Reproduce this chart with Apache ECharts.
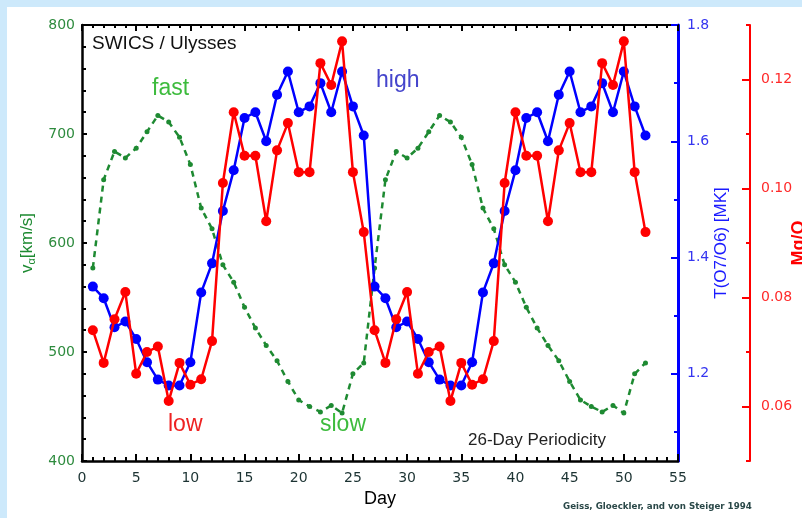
<!DOCTYPE html>
<html>
<head>
<meta charset="utf-8">
<script src="https://cdn.jsdelivr.net/npm/echarts@6/dist/echarts.min.js"></script>
<style>
  html, body { margin: 0; padding: 0; background: #cde9fb; }
  #frame { position: absolute; left: 7px; top: 7px; width: 795px; height: 511px; background: #ffffff; }
  #chart { position: absolute; left: 0; top: 0; width: 802px; height: 518px; }
</style>
</head>
<body>
<div id="frame"></div>
<div id="chart"></div>
<script>
// day number, two 26-day rotations
const days = [
  1, 2, 3, 4, 5, 6, 7, 8, 9, 10, 11, 12, 13, 14, 15, 16, 17, 18, 19, 20, 21, 22, 23, 24, 25, 26,
  27, 28, 29, 30, 31, 32, 33, 34, 35, 36, 37, 38, 39, 40, 41, 42, 43, 44, 45, 46, 47, 48, 49, 50, 51, 52
];

// solar wind speed v_alpha [km/s]
const speed = [
  577, 658, 684, 678, 687, 702, 717, 711, 697, 672, 632, 613, 580, 564, 541, 522, 506, 492, 473, 456, 450, 445, 451, 444, 480, 490,
  577, 658, 684, 678, 687, 702, 717, 711, 697, 672, 632, 613, 580, 564, 541, 522, 506, 492, 473, 456, 450, 445, 451, 444, 480, 490
];

// freeze-in temperature T(O7/O6) [MK]
const tempO = [
  1.35, 1.33, 1.28, 1.29, 1.26, 1.22, 1.19, 1.18, 1.18, 1.22, 1.34, 1.39, 1.48, 1.55, 1.64, 1.65, 1.60, 1.68, 1.72, 1.65, 1.66, 1.70, 1.65, 1.72, 1.66, 1.61,
  1.35, 1.33, 1.28, 1.29, 1.26, 1.22, 1.19, 1.18, 1.18, 1.22, 1.34, 1.39, 1.48, 1.55, 1.64, 1.65, 1.60, 1.68, 1.72, 1.65, 1.66, 1.70, 1.65, 1.72, 1.66, 1.61
];

// abundance ratio Mg/O
const mgO = [
  0.074, 0.068, 0.076, 0.081, 0.066, 0.070, 0.071, 0.061, 0.068, 0.064, 0.065, 0.072, 0.101, 0.114, 0.106, 0.106, 0.094, 0.107, 0.112, 0.103, 0.103, 0.123, 0.119, 0.127, 0.103, 0.092,
  0.074, 0.068, 0.076, 0.081, 0.066, 0.070, 0.071, 0.061, 0.068, 0.064, 0.065, 0.072, 0.101, 0.114, 0.106, 0.106, 0.094, 0.107, 0.112, 0.103, 0.103, 0.123, 0.119, 0.127, 0.103, 0.092
];

// tick values on the two right-hand axes
const tempMajorTicks = [1.2, 1.4, 1.6, 1.8];
const tempMinorTicks = [1.1, 1.3, 1.5, 1.7];
const mgMajorTicks = [0.06, 0.08, 0.10, 0.12];
const mgMinorTicks = [0.05, 0.07, 0.09, 0.11, 0.13];

const GREEN = '#1e8a32';
const BLUE = '#0000ff';
const RED = '#ff0000';
const FONT = 'DejaVu Sans';
const SANS = 'Liberation Sans';

const chart = echarts.init(document.getElementById('chart'), null, { renderer: 'canvas' });

const pairs = (ys) => days.map((d, i) => [d, ys[i]]);

function xAxisBase(extra) {
  return Object.assign({
    type: 'value',
    min: 0,
    max: 55,
    interval: 5,
    splitLine: { show: false },
    axisLine: { show: true, onZero: false, lineStyle: { color: '#000', width: 2.5 } },
    axisTick: { show: true, inside: true, length: 7, lineStyle: { color: '#000', width: 2 } },
    minorTick: { show: true, splitNumber: 5, length: 4, lineStyle: { color: '#000', width: 2 } },
    minorSplitLine: { show: false }
  }, extra);
}

function rightAxis(min, max, color, ticks, tickLen, showLine, lineW, offset, labels) {
  return {
    type: 'value',
    position: 'right',
    offset: offset,
    min: min,
    max: max,
    splitLine: { show: false },
    axisLine: { show: showLine, onZero: false, lineStyle: { color: color, width: lineW } },
    axisTick: { show: true, inside: true, length: tickLen, customValues: ticks, lineStyle: { color: color, width: 2 } },
    axisLabel: labels ? Object.assign({ customValues: ticks }, labels) : { show: false }
  };
}

const option = {
  animation: false,
  backgroundColor: 'transparent',
  grid: { left: 82, top: 25, width: 596, height: 436, containLabel: false, outerBoundsMode: 'none' },
  xAxis: [
    xAxisBase({
      position: 'bottom',
      name: 'Day',
      nameLocation: 'middle',
      nameGap: 24,
      nameTextStyle: { fontFamily: SANS, fontSize: 18, color: '#000' },
      axisLabel: { margin: 10, fontFamily: FONT, fontSize: 14, color: '#1c3333' }
    }),
    xAxisBase({
      position: 'top',
      axisLine: { show: true, onZero: false, lineStyle: { color: '#000', width: 2 } },
      axisTick: { show: true, inside: true, length: 6, lineStyle: { color: '#000', width: 2 } },
      minorTick: { show: true, splitNumber: 5, length: 3, lineStyle: { color: '#000', width: 2 } },
      axisLabel: { show: false }
    })
  ],
  yAxis: [
    {
      type: 'value',
      position: 'left',
      min: 400,
      max: 800,
      interval: 100,
      name: '{v|v}{a|\u03b1}{u|[km/s]}',
      nameLocation: 'middle',
      nameGap: 44,
      nameRotate: 90,
      nameTextStyle: {
        color: GREEN,
        rich: {
          v: { fontFamily: SANS, fontSize: 17, color: GREEN },
          a: { fontFamily: SANS, fontSize: 11, color: GREEN, padding: [9, 0, 0, 0] },
          u: { fontFamily: SANS, fontSize: 17, color: GREEN }
        }
      },
      splitLine: { show: false },
      axisLine: { show: true, onZero: false, lineStyle: { color: '#000', width: 2.5 } },
      axisTick: { show: true, inside: true, length: 5, lineStyle: { color: '#000', width: 2 } },
      minorTick: { show: true, splitNumber: 5, length: 4, lineStyle: { color: '#000', width: 2 } },
      axisLabel: { margin: 7, fontFamily: FONT, fontSize: 14, color: '#2e8b3e' }
    },
    Object.assign(
      rightAxis(1.05, 1.8, BLUE, tempMajorTicks, 7, true, 3, 0,
        { margin: 9, fontFamily: FONT, fontSize: 14, color: '#3535f0', formatter: (v) => v.toFixed(1) }),
      {
        name: 'T(O7/O6) [MK]',
        nameLocation: 'middle',
        nameGap: 35,
        nameRotate: 90,
        nameMoveOverlap: false,
        nameTextStyle: { fontFamily: SANS, fontSize: 17, color: '#1a1aff' }
      }
    ),
    rightAxis(1.05, 1.8, BLUE, tempMinorTicks, 4, false, 3, 0, null),
    Object.assign(
      rightAxis(0.05, 0.13, RED, mgMajorTicks, 8, true, 2, 72,
        { margin: 11, fontFamily: FONT, fontSize: 14, color: '#ff2a2a', formatter: (v) => v.toFixed(2) }),
      {
        name: 'Mg/O',
        nameLocation: 'middle',
        nameGap: 40,
        nameRotate: 90,
        nameMoveOverlap: false,
        nameTextStyle: { fontFamily: SANS, fontSize: 18, fontWeight: 'bold', color: RED }
      }
    ),
    rightAxis(0.05, 0.13, RED, mgMinorTicks, 4, false, 2, 72, null)
  ],
  graphic: [
    { type: 'text', left: 92, top: 34, style: { text: 'SWICS / Ulysses', fontFamily: SANS, fontSize: 19, fill: '#111' } },
    { type: 'text', left: 152, top: 77, style: { text: 'fast', fontFamily: SANS, fontSize: 23, fill: '#3dbb3d' } },
    { type: 'text', left: 376, top: 69, style: { text: 'high', fontFamily: SANS, fontSize: 23, fill: '#4545cc' } },
    { type: 'text', left: 168, top: 413, style: { text: 'low', fontFamily: SANS, fontSize: 23, fill: '#ee2222' } },
    { type: 'text', left: 320, top: 413, style: { text: 'slow', fontFamily: SANS, fontSize: 23, fill: '#3dbb3d' } },
    { type: 'text', left: 468, top: 432, style: { text: '26-Day Periodicity', fontFamily: SANS, fontSize: 17, fill: '#222' } },
    { type: 'text', left: 563, top: 502, style: { text: 'Geiss, Gloeckler, and von Steiger 1994', fontFamily: FONT, fontSize: 8.7, fontWeight: 'bold', fill: '#2a4848' } }
  ],
  series: [
    {
      name: 'speed',
      type: 'line',
      xAxisIndex: 0,
      yAxisIndex: 0,
      data: pairs(speed),
      symbol: 'circle',
      symbolSize: 5,
      itemStyle: { color: GREEN },
      lineStyle: { color: GREEN, width: 2.5, type: [6, 5] },
      z: 2
    },
    {
      name: 'T(O7/O6)',
      type: 'line',
      xAxisIndex: 0,
      yAxisIndex: 1,
      data: pairs(tempO),
      symbol: 'circle',
      symbolSize: 10,
      itemStyle: { color: BLUE },
      lineStyle: { color: BLUE, width: 2.5 },
      z: 3
    },
    {
      name: 'Mg/O',
      type: 'line',
      xAxisIndex: 0,
      yAxisIndex: 3,
      data: pairs(mgO),
      symbol: 'circle',
      symbolSize: 10,
      itemStyle: { color: RED },
      lineStyle: { color: RED, width: 2.5 },
      z: 4
    }
  ]
};

chart.setOption(option);
</script>
</body>
</html>
